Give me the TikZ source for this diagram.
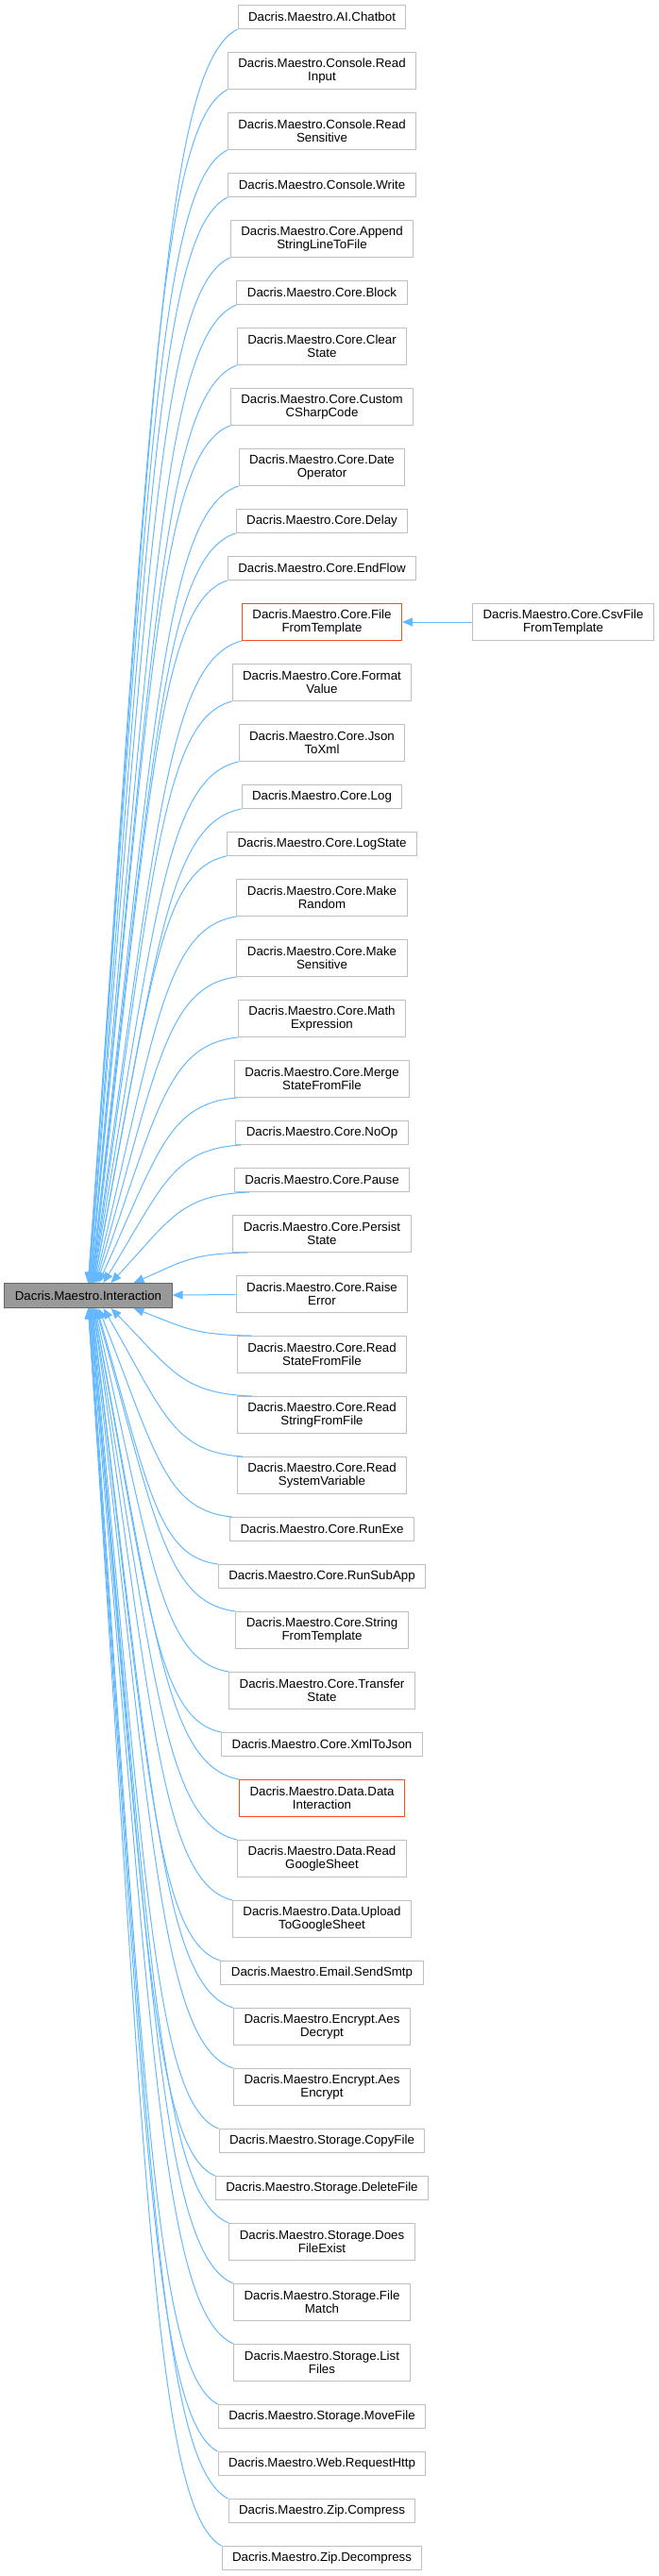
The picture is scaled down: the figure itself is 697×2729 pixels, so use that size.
\documentclass[tikz,border=0pt]{standalone}
\usepackage{fontspec}
\setmainfont{Liberation Sans}
\usetikzlibrary{positioning,arrows.meta,calc}
\definecolor{edgeblue}{HTML}{63B8FF}
\definecolor{boxgray}{HTML}{BFBFBF}
\definecolor{cutred}{HTML}{FF4A1C}
\definecolor{basefill}{HTML}{999999}
\definecolor{baseedge}{HTML}{666666}
\tikzset{
  cls/.style={draw=boxgray, fill=white, line width=1pt, align=center,
    font=\fontsize{13.3}{14}\selectfont, inner xsep=11pt, inner ysep=3pt,
    minimum height=25pt},
  two/.style={cls, minimum height=39pt},
  cut/.style={draw=cutred},
  inh/.style={draw=edgeblue, line width=1pt, -{Triangle[length=11pt,width=9pt]},
    to path={let \p1=(\tikztostart), \p2=(\tikztotarget) in
      .. controls ({\x1-0.5*(\x1-\x2)},{\y1-0.03*(\y1-\y2)})
      and ({\x2+0.43*(\x1-\x2)},{\y2+0.7*(\y1-\y2)}) .. (\tikztotarget)}},
}
\begin{document}
\begin{tikzpicture}[x=1pt, y=1pt, node distance=24pt]
  \useasboundingbox (0,0) rectangle (697,-2729);
  % base class
  \node[cls, fill=basefill, draw=baseedge, minimum height=26pt] (inter) at (93.5,-1372.5) {Dacris.Maestro.Interaction};
  % derived classes, top to bottom
  \node[cls, anchor=north] (chatbot) at (341,-5) {Dacris.Maestro.AI.Chatbot};
  \node[two, below=of chatbot] (readinput) {Dacris.Maestro.Console.Read\\Input};
  \node[two, below=of readinput] (readsens) {Dacris.Maestro.Console.Read\\Sensitive};
  \node[cls, below=of readsens] (cwrite) {Dacris.Maestro.Console.Write};
  \node[two, below=of cwrite] (append) {Dacris.Maestro.Core.Append\\StringLineToFile};
  \node[cls, below=of append] (block) {Dacris.Maestro.Core.Block};
  \node[two, below=of block] (clearstate) {Dacris.Maestro.Core.Clear\\State};
  \node[two, below=of clearstate] (customcs) {Dacris.Maestro.Core.Custom\\CSharpCode};
  \node[two, below=of customcs] (dateop) {Dacris.Maestro.Core.Date\\Operator};
  \node[cls, below=of dateop] (delay) {Dacris.Maestro.Core.Delay};
  \node[cls, below=of delay] (endflow) {Dacris.Maestro.Core.EndFlow};
  \node[two, cut, below=of endflow] (filetpl) {Dacris.Maestro.Core.File\\FromTemplate};
  \node[two, below=of filetpl] (formatval) {Dacris.Maestro.Core.Format\\Value};
  \node[two, below=of formatval] (jsontoxml) {Dacris.Maestro.Core.Json\\ToXml};
  \node[cls, below=of jsontoxml] (log) {Dacris.Maestro.Core.Log};
  \node[cls, below=of log] (logstate) {Dacris.Maestro.Core.LogState};
  \node[two, below=of logstate] (makerandom) {Dacris.Maestro.Core.Make\\Random};
  \node[two, below=of makerandom] (makesens) {Dacris.Maestro.Core.Make\\Sensitive};
  \node[two, below=of makesens] (mathexpr) {Dacris.Maestro.Core.Math\\Expression};
  \node[two, below=of mathexpr] (mergestate) {Dacris.Maestro.Core.Merge\\StateFromFile};
  \node[cls, below=of mergestate] (noop) {Dacris.Maestro.Core.NoOp};
  \node[cls, below=of noop] (pause) {Dacris.Maestro.Core.Pause};
  \node[two, below=of pause] (persist) {Dacris.Maestro.Core.Persist\\State};
  \node[two, below=of persist] (raiseerr) {Dacris.Maestro.Core.Raise\\Error};
  \node[two, below=of raiseerr] (readstate) {Dacris.Maestro.Core.Read\\StateFromFile};
  \node[two, below=of readstate] (readstring) {Dacris.Maestro.Core.Read\\StringFromFile};
  \node[two, below=of readstring] (readsysvar) {Dacris.Maestro.Core.Read\\SystemVariable};
  \node[cls, below=of readsysvar] (runexe) {Dacris.Maestro.Core.RunExe};
  \node[cls, below=of runexe] (runsubapp) {Dacris.Maestro.Core.RunSubApp};
  \node[two, below=of runsubapp] (stringtpl) {Dacris.Maestro.Core.String\\FromTemplate};
  \node[two, below=of stringtpl] (transfer) {Dacris.Maestro.Core.Transfer\\State};
  \node[cls, below=of transfer] (xmltojson) {Dacris.Maestro.Core.XmlToJson};
  \node[two, cut, below=of xmltojson] (datainter) {Dacris.Maestro.Data.Data\\Interaction};
  \node[two, below=of datainter] (readsheet) {Dacris.Maestro.Data.Read\\GoogleSheet};
  \node[two, below=of readsheet] (uploadsheet) {Dacris.Maestro.Data.Upload\\ToGoogleSheet};
  \node[cls, below=of uploadsheet] (sendsmtp) {Dacris.Maestro.Email.SendSmtp};
  \node[two, below=of sendsmtp] (aesdec) {Dacris.Maestro.Encrypt.Aes\\Decrypt};
  \node[two, below=of aesdec] (aesenc) {Dacris.Maestro.Encrypt.Aes\\Encrypt};
  \node[cls, below=of aesenc] (copyfile) {Dacris.Maestro.Storage.CopyFile};
  \node[cls, below=of copyfile] (deletefile) {Dacris.Maestro.Storage.DeleteFile};
  \node[two, below=of deletefile] (fileexist) {Dacris.Maestro.Storage.Does\\FileExist};
  \node[two, below=of fileexist] (filematch) {Dacris.Maestro.Storage.File\\Match};
  \node[two, below=of filematch] (listfiles) {Dacris.Maestro.Storage.List\\Files};
  \node[cls, below=of listfiles] (movefile) {Dacris.Maestro.Storage.MoveFile};
  \node[cls, below=of movefile] (requesthttp) {Dacris.Maestro.Web.RequestHttp};
  \node[cls, below=of requesthttp] (zipcomp) {Dacris.Maestro.Zip.Compress};
  \node[cls, below=of zipcomp] (zipdecomp) {Dacris.Maestro.Zip.Decompress};
  % second level
  \node[two, right=74pt of filetpl] (csvtpl) {Dacris.Maestro.Core.CsvFile\\FromTemplate};

  % inheritance edges
  \foreach \n/\d/\s in {chatbot/0/0, readinput/0/0, readsens/0/0, cwrite/1/0,
      append/1/0, block/2/0, clearstate/2/0, customcs/2/0, dateop/3/0, delay/3/0,
      endflow/4/0, filetpl/4/0, formatval/5/0, jsontoxml/5/0, log/6/0,
      logstate/6/0, makerandom/7/0, makesens/8/0, mathexpr/9/0,
      mergestate/11/3, noop/16/6, pause/24/16, persist/48/16}
    \draw[inh] ([xshift=\s pt]\n.south west) to ([xshift=\d pt]inter.north);
  \draw[inh] (raiseerr) -- (inter);
  \foreach \n/\d/\s in {readstate/48/16, readstring/24/16, readsysvar/16/6,
      runexe/11/3, runsubapp/9/0, stringtpl/8/0, transfer/7/0, xmltojson/6/0,
      datainter/6/0, readsheet/5/0, uploadsheet/5/0, sendsmtp/4/0, aesdec/4/0,
      aesenc/3/0, copyfile/3/0, deletefile/2/0, fileexist/2/0, filematch/2/0,
      listfiles/1/0, movefile/1/0, requesthttp/0/0, zipcomp/0/0, zipdecomp/0/0}
    \draw[inh] ([xshift=\s pt]\n.north west) to ([xshift=\d pt]inter.south);
  \draw[inh] (csvtpl) -- (filetpl);
\end{tikzpicture}
\end{document}
